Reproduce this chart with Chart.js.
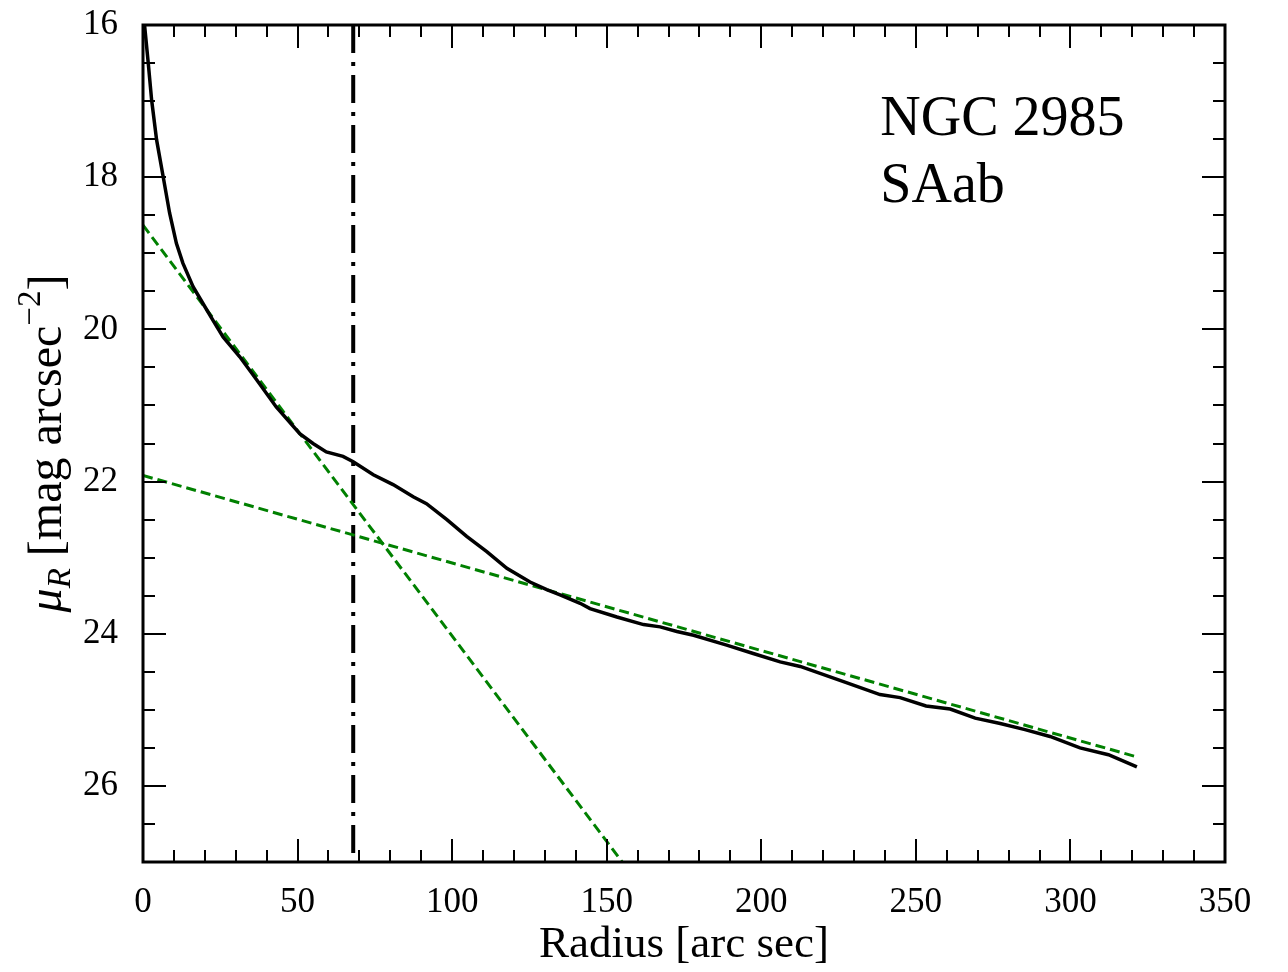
<!DOCTYPE html>
<html>
<head>
<meta charset="utf-8">
<script src="https://cdn.jsdelivr.net/npm/chart.js@4.4.1/dist/chart.umd.min.js"></script>
<style>
  html, body { margin: 0; padding: 0; background: #ffffff; }
  #wrap { width: 1288px; height: 972px; }
</style>
</head>
<body>
<div id="wrap"><canvas id="profile" width="1288" height="972"></canvas></div>
<script>
// Surface-brightness profile of NGC 2985 (R band), radius in arcsec
const radius = [0.5, 1.7, 2.8, 4.4, 6.6, 8.6, 10.8, 12.9, 16.2, 19.4, 22.6, 25.9, 31.3, 36.7, 43.1,
  50.7, 55.0, 59.3, 64.7, 68.0, 74.5, 80.9, 87.4, 91.7, 98.3, 104.7, 111.2, 117.7, 125.2, 130.6,
  134.9, 141.4, 144.6, 153.3, 161.9, 167.3, 172.7, 178.1, 188.8, 197.4, 206.1, 212.6, 226.6, 238.4,
  244.9, 253.3, 261.1, 269.2, 277.3, 285.3, 293.4, 303.1, 312.3, 321.5];
const muR = [16.00, 16.50, 16.99, 17.51, 18.01, 18.47, 18.87, 19.13, 19.44, 19.66, 19.88, 20.10, 20.36, 20.66, 21.02,
  21.37, 21.50, 21.61, 21.67, 21.74, 21.91, 22.04, 22.20, 22.29, 22.50, 22.72, 22.92, 23.14, 23.32, 23.42,
  23.49, 23.60, 23.67, 23.78, 23.88, 23.91, 23.97, 24.02, 24.15, 24.26, 24.37, 24.43, 24.63, 24.80,
  24.84, 24.95, 24.99, 25.11, 25.18, 25.26, 25.35, 25.50, 25.59, 25.75];

// Inner exponential fit (end points)
const innerFitR = [0, 155];
const innerFitMu = [18.63, 27.0];
// Outer disk exponential fit (end points)
const outerFitR = [0, 321.6];
const outerFitMu = [21.92, 25.62];

// Break radius marker
const breakRadius = 68;
const breakMu = [16, 27];

// Axis ticks
const xTickLabels = [0, 50, 100, 150, 200, 250, 300, 350];
const yTickLabels = [16, 18, 20, 22, 24, 26];

const galaxyName = 'NGC 2985';
const galaxyType = 'SAab';

const toPoints = (xs, ys) => xs.map((x, i) => ({ x: x, y: ys[i] }));

const SERIF = '"Liberation Serif", "Times New Roman", serif';

// Inward ticks on all four sides, frame, y label and annotation
const framePlugin = {
  id: 'frame',
  afterDraw(chart) {
    const { ctx, chartArea: a, scales } = chart;
    const xs = scales.x, ys = scales.y;
    ctx.save();
    ctx.strokeStyle = '#000';
    ctx.lineWidth = 2;
    ctx.beginPath();
    // x ticks every 10, long every 50
    for (let v = 0; v <= 350; v += 10) {
      const px = Math.round(xs.getPixelForValue(v));
      const len = (v % 50 === 0) ? 23 : 12;
      ctx.moveTo(px, a.bottom); ctx.lineTo(px, a.bottom - len);
      ctx.moveTo(px, a.top); ctx.lineTo(px, a.top + len);
    }
    // y ticks every 0.5, long every 2
    for (let k = 0; k <= 22; k++) {
      const v = 16 + k * 0.5;
      const py = Math.round(ys.getPixelForValue(v));
      const len = (k % 4 === 0) ? 23 : 12;
      ctx.moveTo(a.left, py); ctx.lineTo(a.left + len, py);
      ctx.moveTo(a.right, py); ctx.lineTo(a.right - len, py);
    }
    ctx.stroke();
    ctx.lineWidth = 3;
    ctx.strokeRect(a.left, a.top, a.right - a.left, a.bottom - a.top);

    // y axis label with subscript and superscript
    const big = 48, small = 33;
    const pieces = [
      { t: '\u03bc', f: 'italic ' + big + 'px ' + SERIF, dy: 0 },
      { t: 'R', f: 'italic ' + small + 'px ' + SERIF, dy: 9 },
      { t: ' [mag arcsec', f: big + 'px ' + SERIF, dy: 0 },
      { t: '\u22122', f: small + 'px ' + SERIF, dy: -21 },
      { t: ']', f: big + 'px ' + SERIF, dy: 0 }
    ];
    let total = 0;
    pieces.forEach(p => { ctx.font = p.f; p.w = ctx.measureText(p.t).width; total += p.w; });
    ctx.translate(61, (a.top + a.bottom) / 2 + total / 2);
    ctx.rotate(-Math.PI / 2);
    ctx.fillStyle = '#000';
    ctx.textBaseline = 'alphabetic';
    ctx.textAlign = 'left';
    let cx = 0;
    pieces.forEach(p => { ctx.font = p.f; ctx.fillText(p.t, cx, p.dy); cx += p.w; });
    ctx.restore();

    // galaxy name and morphological type
    ctx.save();
    ctx.fillStyle = '#000';
    ctx.font = '56px ' + SERIF;
    ctx.textAlign = 'left';
    ctx.textBaseline = 'alphabetic';
    const tx = xs.getPixelForValue(238.5);
    ctx.fillText(galaxyName, tx, ys.getPixelForValue(17.45));
    ctx.fillText(galaxyType, tx, ys.getPixelForValue(18.33));
    ctx.restore();
  }
};

new Chart(document.getElementById('profile'), {
  type: 'scatter',
  data: {
    datasets: [
      {
        label: 'profile',
        data: toPoints(radius, muR),
        showLine: true,
        borderColor: '#000000',
        borderWidth: 3.5,
        pointRadius: 0,
        tension: 0
      },
      {
        label: 'inner fit',
        data: toPoints(innerFitR, innerFitMu),
        showLine: true,
        borderColor: '#008000',
        borderWidth: 3,
        borderDash: [10, 5],
        pointRadius: 0
      },
      {
        label: 'disk fit',
        data: toPoints(outerFitR, outerFitMu),
        showLine: true,
        borderColor: '#008000',
        borderWidth: 3,
        borderDash: [10, 5],
        pointRadius: 0
      },
      {
        label: 'break',
        data: breakMu.map(m => ({ x: breakRadius, y: m })),
        showLine: true,
        borderColor: '#000000',
        borderWidth: 4,
        borderDash: [28, 9, 4, 9],
        pointRadius: 0
      }
    ]
  },
  options: {
    responsive: false,
    animation: false,
    devicePixelRatio: 1,
    layout: { padding: { top: 25, right: 63, left: 0, bottom: 0 } },
    plugins: { legend: { display: false }, tooltip: { enabled: false } },
    scales: {
      x: {
        type: 'linear',
        position: 'bottom',
        min: 0,
        max: 350,
        grid: { display: false, drawTicks: false },
        border: { display: false },
        afterBuildTicks: s => { s.ticks = xTickLabels.map(v => ({ value: v })); },
        afterFit: s => { s.height = 110; s.paddingLeft = 0; s.paddingRight = 0; },
        ticks: {
          color: '#000',
          padding: 20,
          maxRotation: 0,
          font: { family: SERIF, size: 35 }
        },
        title: {
          display: true,
          text: 'Radius [arc sec]',
          color: '#000',
          padding: { top: 0, bottom: 0 },
          font: { family: SERIF, size: 45, lineHeight: 1.2 }
        }
      },
      y: {
        type: 'linear',
        reverse: true,
        min: 16,
        max: 27,
        grid: { display: false, drawTicks: false },
        border: { display: false },
        afterBuildTicks: s => { s.ticks = yTickLabels.map(v => ({ value: v })); },
        afterFit: s => { s.width = 143; s.paddingTop = 0; s.paddingBottom = 0; },
        ticks: {
          color: '#000',
          padding: 25,
          font: { family: SERIF, size: 35 }
        }
      }
    }
  },
  plugins: [framePlugin]
});
</script>
</body>
</html>
